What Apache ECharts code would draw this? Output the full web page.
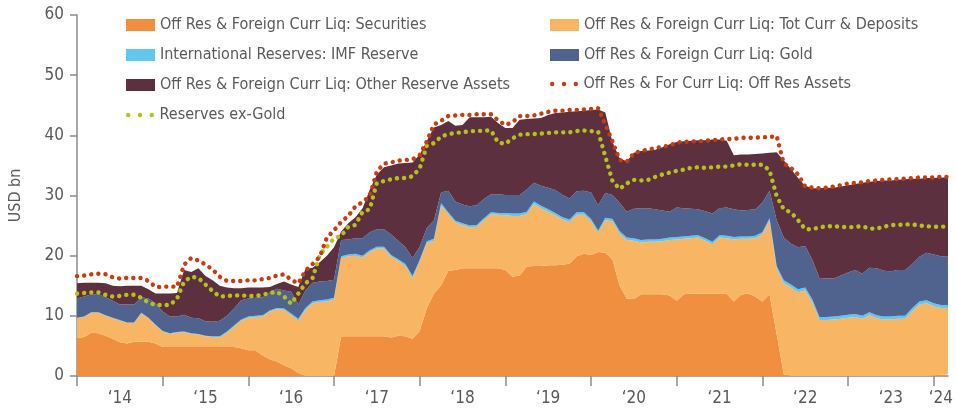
<!DOCTYPE html>
<html>
<head>
<meta charset="utf-8">
<script src="https://cdn.jsdelivr.net/npm/echarts@6/dist/echarts.min.js"></script>
<style>
  html, body { margin: 0; padding: 0; background: #fff; }
  #chart { width: 956px; height: 412px; }
</style>
</head>
<body>
<div id="chart"></div>
<script>
// monthly observations, Jan 2014 .. Mar 2024
const months = []
for (let y = 2014; y <= 2024; y++) {
  for (let m = 1; m <= 12; m++) {
    if (y === 2024 && m > 3) break
    months.push(y + '-' + String(m).padStart(2, '0'))
  }
}

// stacked components, USD bn
const securities = [
  6.3, 6.5, 7.2, 7.1, 6.7, 6.2, 5.6, 5.4, 5.7, 5.7,
  5.7, 5.4, 4.8, 4.8, 4.8, 4.8, 4.8, 4.8, 4.8, 4.8,
  4.8, 4.8, 4.8, 4.6, 4.3, 4.3, 3.4, 2.8, 2.4, 1.8,
  1.3, 0.5, 0, 0, 0, 0, 0, 6.6, 6.6, 6.6,
  6.6, 6.6, 6.6, 6.6, 6.4, 6.7, 6.6, 6.2, 7.5, 11.3,
  13.7, 15.1, 17.5, 17.6, 17.9, 17.9, 17.9, 17.9, 17.9, 17.9,
  17.6, 16.5, 16.7, 18.2, 18.3, 18.3, 18.4, 18.4, 18.5, 18.7,
  19.9, 20.3, 20.1, 20.6, 20.5, 19.4, 15.0, 12.9, 12.8, 13.6,
  13.6, 13.6, 13.6, 13.4, 12.5, 13.6, 13.7, 13.7, 13.7, 13.7,
  13.7, 13.7, 12.4, 13.5, 13.7, 13.2, 12.4, 13.6, 7.0, 0.3,
  0, 0, 0, 0, 0, 0, 0, 0, 0, 0,
  0, 0, 0, 0, 0, 0, 0, 0, 0, 0,
  0.1, 0.2, 0.3
]
const currDeposits = [
  3.3, 3.3, 3.3, 3.4, 3.3, 3.4, 3.6, 3.4, 3.1, 4.7,
  3.9, 3.0, 2.6, 2.2, 2.4, 2.5, 2.2, 2.1, 1.8, 1.7,
  1.6, 2.4, 3.4, 4.6, 5.4, 5.5, 6.5, 7.9, 8.7, 9.2,
  8.8, 8.7, 11.0, 12.1, 12.3, 12.4, 12.7, 13.0, 13.3, 13.4,
  13.1, 14.0, 14.6, 14.6, 13.4, 12.4, 11.7, 10.1, 11.5, 10.8,
  8.8, 13.3, 9.4, 7.9, 7.2, 6.8, 6.9, 8.0, 9.0, 8.9,
  9.1, 10.1, 9.9, 8.7, 10.3, 9.6, 8.9, 8.3, 7.5, 6.9,
  6.9, 6.5, 5.6, 3.2, 5.4, 6.3, 8.7, 9.7, 9.7, 8.6,
  8.7, 8.7, 8.8, 9.2, 10.2, 9.2, 9.2, 9.3, 8.8, 8.2,
  9.3, 9.2, 10.3, 9.3, 9.1, 9.7, 11.1, 12.2, 10.9, 15.1,
  14.7, 13.9, 14.2, 12.2, 9.3, 9.3, 9.4, 9.5, 9.7, 9.8,
  9.5, 10.1, 9.6, 9.4, 9.4, 9.5, 9.5, 10.8, 11.9, 12.1,
  11.5, 11.1, 11.0
]
const imfReserve = [
  0.1, 0.1, 0.1, 0.1, 0.1, 0.1, 0.1, 0.1, 0.1, 0.1,
  0.1, 0.1, 0.1, 0.1, 0.1, 0.1, 0.1, 0.1, 0.1, 0.1,
  0.2, 0.2, 0.2, 0.2, 0.2, 0.2, 0.2, 0.2, 0.2, 0.2,
  0.3, 0.3, 0.3, 0.3, 0.3, 0.3, 0.3, 0.3, 0.3, 0.3,
  0.3, 0.3, 0.3, 0.3, 0.3, 0.3, 0.3, 0.3, 0.3, 0.3,
  0.3, 0.3, 0.3, 0.3, 0.3, 0.3, 0.3, 0.3, 0.3, 0.3,
  0.4, 0.4, 0.4, 0.4, 0.4, 0.4, 0.4, 0.4, 0.4, 0.4,
  0.4, 0.4, 0.4, 0.4, 0.4, 0.4, 0.4, 0.4, 0.4, 0.4,
  0.4, 0.4, 0.4, 0.4, 0.4, 0.4, 0.4, 0.4, 0.4, 0.4,
  0.4, 0.4, 0.4, 0.4, 0.4, 0.4, 0.4, 0.4, 0.4, 0.5,
  0.5, 0.5, 0.5, 0.5, 0.5, 0.5, 0.5, 0.5, 0.5, 0.5,
  0.5, 0.5, 0.5, 0.5, 0.5, 0.5, 0.5, 0.5, 0.5, 0.5,
  0.5, 0.5, 0.5
]
const gold = [
  3.2, 3.3, 3.0, 3.0, 3.0, 2.8, 2.6, 3.0, 3.0, 2.6,
  3.2, 3.6, 3.2, 2.8, 2.6, 2.8, 2.6, 2.6, 2.4, 2.4,
  2.6, 2.6, 2.8, 3.2, 3.0, 3.0, 3.0, 3.0, 3.2, 3.0,
  3.6, 2.4, 2.9, 3.1, 3.1, 3.1, 3.0, 2.7, 2.5, 2.6,
  2.9, 3.0, 2.9, 2.9, 3.4, 3.1, 2.8, 3.0, 2.2, 2.2,
  3.1, 1.8, 3.6, 3.2, 3.1, 3.2, 3.3, 3.2, 3.0, 3.1,
  3.0, 3.1, 3.1, 3.7, 3.1, 3.3, 3.6, 3.8, 3.7, 3.5,
  3.5, 3.6, 4.4, 4.2, 4.1, 4.0, 4.7, 4.3, 4.9, 5.3,
  5.2, 5.0, 4.7, 4.3, 4.9, 4.7, 4.5, 4.3, 4.5, 4.7,
  4.5, 4.7, 4.6, 4.3, 4.4, 4.4, 4.9, 4.6, 7.6, 7.1,
  6.8, 7.0, 6.9, 6.6, 6.5, 6.4, 6.3, 6.7, 7.0, 7.3,
  7.0, 7.4, 7.8, 7.6, 7.5, 7.6, 7.6, 7.3, 7.4, 7.9,
  8.1, 8.1, 8.0
]
const otherAssets = [
  2.5, 2.3, 1.9, 1.9, 2.3, 2.5, 3.0, 3.1, 3.1, 1.9,
  1.5, 1.6, 3.0, 3.8, 3.9, 7.4, 7.6, 8.3, 7.5, 6.9,
  5.8, 4.7, 3.4, 2.0, 1.8, 1.7, 1.6, 0.9, 0.8, 1.5,
  1.2, 2.9, 3.6, 2.5, 3.2, 4.2, 5.4, 1.4, 2.7, 3.5,
  5.0, 7.0, 9.1, 10.3, 11.5, 12.8, 14.0, 15.9, 15.3, 14.5,
  15.4, 11.2, 11.6, 12.6, 13.2, 14.8, 14.6, 13.6, 12.9, 11.8,
  11.1, 11.1, 12.5, 11.7, 10.7, 11.3, 12.1, 12.8, 13.7, 14.4,
  13.3, 13.3, 13.7, 15.9, 13.4, 8.8, 7.4, 8.4, 9.3, 9.5,
  9.6, 9.9, 10.5, 11.2, 10.9, 11.1, 11.3, 11.5, 11.8, 12.3,
  11.4, 11.1, 9.0, 9.3, 9.2, 9.2, 8.2, 6.3, 11.3, 12.8,
  12.4, 11.5, 10.0, 11.9, 14.9, 15.1, 15.1, 14.8, 14.5, 14.3,
  15.1, 14.3, 14.5, 15.0, 15.1, 15.0, 15.1, 14.2, 13.0, 12.4,
  12.7, 13.1, 13.2
]
// dotted lines
const offResAssets = [
  16.6, 16.7, 16.9, 17.0, 16.9, 16.4, 16.2, 16.3, 16.3, 16.3,
  15.8, 14.8, 14.8, 14.9, 14.8, 18.5, 19.6, 19.2, 18.5, 17.7,
  16.5, 15.8, 15.8, 15.8, 15.9, 15.9, 16.1, 16.3, 16.7, 16.9,
  16.0, 15.4, 17.5, 18.6, 19.8, 23.0, 24.2, 25.6, 26.6, 28.2,
  28.9, 29.9, 34.0, 35.3, 35.5, 35.8, 35.9, 36.0, 36.7, 39.0,
  41.8, 42.4, 43.2, 43.3, 43.4, 43.4, 43.5, 43.5, 43.5, 42.5,
  41.7, 42.2, 43.2, 43.2, 43.3, 43.6, 43.9, 44.1, 44.1, 44.2,
  44.2, 44.3, 44.4, 44.5, 41.8, 39.0, 35.9, 35.6, 37.0, 37.4,
  37.6, 37.9, 38.1, 38.3, 38.8, 38.9, 39.0, 39.0, 39.1, 39.2,
  39.3, 39.4, 39.4, 39.6, 39.6, 39.6, 39.7, 39.7, 39.9, 35.3,
  34.6, 33.5, 31.5, 31.3, 31.2, 31.3, 31.5, 31.7, 32.0, 32.1,
  32.2, 32.4, 32.5, 32.6, 32.7, 32.7, 32.8, 32.9, 33.0, 33.0,
  33.0, 33.1, 33.1
]
const reservesExGold = [
  13.7, 13.8, 13.9, 13.9, 13.5, 13.2, 13.3, 13.5, 13.5, 13.0,
  12.2, 11.8, 11.8, 11.8, 12.8, 15.7, 16.5, 16.3, 15.2, 14.1,
  13.2, 13.3, 13.4, 13.4, 13.3, 13.3, 13.5, 13.8, 14.0, 13.2,
  12.0, 13.7, 15.4, 16.3, 20.1, 21.5, 22.9, 23.3, 24.8, 25.1,
  27.3, 27.7, 32.1, 32.4, 32.7, 32.9, 32.9, 33.2, 34.5, 38.3,
  38.7, 39.8, 40.2, 40.4, 40.5, 40.7, 40.7, 40.8, 40.8, 38.8,
  38.6, 39.5, 40.1, 40.2, 40.2, 40.3, 40.4, 40.5, 40.5, 40.5,
  40.7, 40.8, 40.7, 40.6, 36.5, 32.4, 31.1, 32.0, 32.6, 32.5,
  32.6, 33.1, 33.5, 33.8, 34.1, 34.3, 34.6, 34.7, 34.6, 34.7,
  34.8, 34.8, 35.0, 35.2, 35.1, 35.1, 35.1, 34.2, 29.9, 27.7,
  27.2, 25.9, 24.4, 24.4, 24.7, 24.9, 24.9, 24.8, 24.7, 24.8,
  24.9, 24.5, 24.5, 24.8, 25.1, 25.1, 25.2, 25.2, 25.0, 24.9,
  24.8, 24.8, 24.9
]

// x labels sit mid-year; '24 sits just after the last year tick
const yearLabels = { 6: '‘14', 18: '‘15', 30: '‘16', 42: '‘17', 54: '‘18', 66: '‘19', 78: '‘20', 90: '‘21', 102: '‘22', 114: '‘23', 121: '‘24' }
const yTicks = [0, 10, 20, 30, 40, 50, 60]

const FONT = '"Liberation Sans Narrow", "DejaVu Sans Condensed", Roboto, sans-serif'
const TXT = '#5a5a5a'
const AXIS = '#8c8c8c'
const DOTS = 'path://M0,2.2a2.2,2.2 0 1,0 4.4,0a2.2,2.2 0 1,0 -4.4,0zM11.8,2.2a2.2,2.2 0 1,0 4.4,0a2.2,2.2 0 1,0 -4.4,0zM23.6,2.2a2.2,2.2 0 1,0 4.4,0a2.2,2.2 0 1,0 -4.4,0z'

const names = {
  sec: 'Off Res & Foreign Curr Liq: Securities',
  cur: 'Off Res & Foreign Curr Liq: Tot Curr & Deposits',
  imf: 'International Reserves: IMF Reserve',
  gold: 'Off Res & Foreign Curr Liq: Gold',
  oth: 'Off Res & Foreign Curr Liq: Other Reserve Assets',
  off: 'Off Res & For Curr Liq: Off Res Assets',
  exg: 'Reserves ex-Gold'
}

function area(name, arr, color) {
  return {
    name, type: 'line', stack: 'total', data: arr, color,
    showSymbol: false, symbol: 'none', lineStyle: { width: 0 },
    areaStyle: { color, opacity: 1 }, emphasis: { disabled: true }
  }
}
function dotted(name, arr, color) {
  return {
    name, type: 'line', data: arr, color, z: 5,
    showSymbol: false, symbol: 'none',
    lineStyle: { color, width: 4.4, type: [0.1, 7.05], cap: 'round' },
    emphasis: { disabled: true }
  }
}

const legendBase = {
  orient: 'vertical', itemWidth: 29, itemHeight: 12, itemGap: 14, icon: 'rect',
  textStyle: { color: TXT, fontSize: 16, lineHeight: 16, fontFamily: FONT },
  selectedMode: false
}

const chart = echarts.init(document.getElementById('chart'))
chart.setOption({
  animation: false,
  grid: { left: 76, right: 4, top: 15, bottom: 36 },
  legend: [
    { ...legendBase, left: 121, top: 12, data: [names.sec, names.imf, names.oth] },
    { ...legendBase, left: 545, top: 12, data: [names.cur, names.gold] },
    { ...legendBase, left: 545, top: 71, itemHeight: 4.4, icon: DOTS, data: [names.off] },
    { ...legendBase, left: 121, top: 102, itemHeight: 4.4, icon: DOTS, data: [names.exg] }
  ],
  xAxis: {
    type: 'category', data: months, boundaryGap: false,
    axisLine: { show: true, lineStyle: { color: AXIS, width: 1.5 } },
    axisTick: { show: true, length: 10, interval: i => i % 12 === 0, lineStyle: { color: AXIS, width: 1.5 } },
    axisLabel: {
      show: true, margin: 14, color: TXT, fontSize: 17, fontFamily: FONT,
      interval: i => yearLabels[i] !== undefined,
      formatter: (v, i) => yearLabels[i] || ''
    },
    splitLine: { show: false }
  },
  yAxis: {
    type: 'value', min: yTicks[0], max: yTicks[yTicks.length - 1], interval: 10,
    name: 'USD bn', nameLocation: 'middle', nameGap: 53, nameRotate: 90,
    nameTextStyle: { color: TXT, fontSize: 16, fontFamily: FONT },
    axisLine: { show: true, lineStyle: { color: AXIS, width: 1.5 } },
    axisTick: { show: true, length: 7, lineStyle: { color: AXIS, width: 1.5 } },
    axisLabel: { color: TXT, fontSize: 17, fontFamily: FONT, margin: 13 },
    splitLine: { show: false }
  },
  series: [
    area(names.sec, securities, '#f18f40'),
    area(names.cur, currDeposits, '#f8b563'),
    area(names.imf, imfReserve, '#62c6ee'),
    area(names.gold, gold, '#50638f'),
    area(names.oth, otherAssets, '#5c303f'),
    dotted(names.exg, reservesExGold, '#b4c21b'),
    dotted(names.off, offResAssets, '#c63c0e')
  ]
})
</script>
</body>
</html>
